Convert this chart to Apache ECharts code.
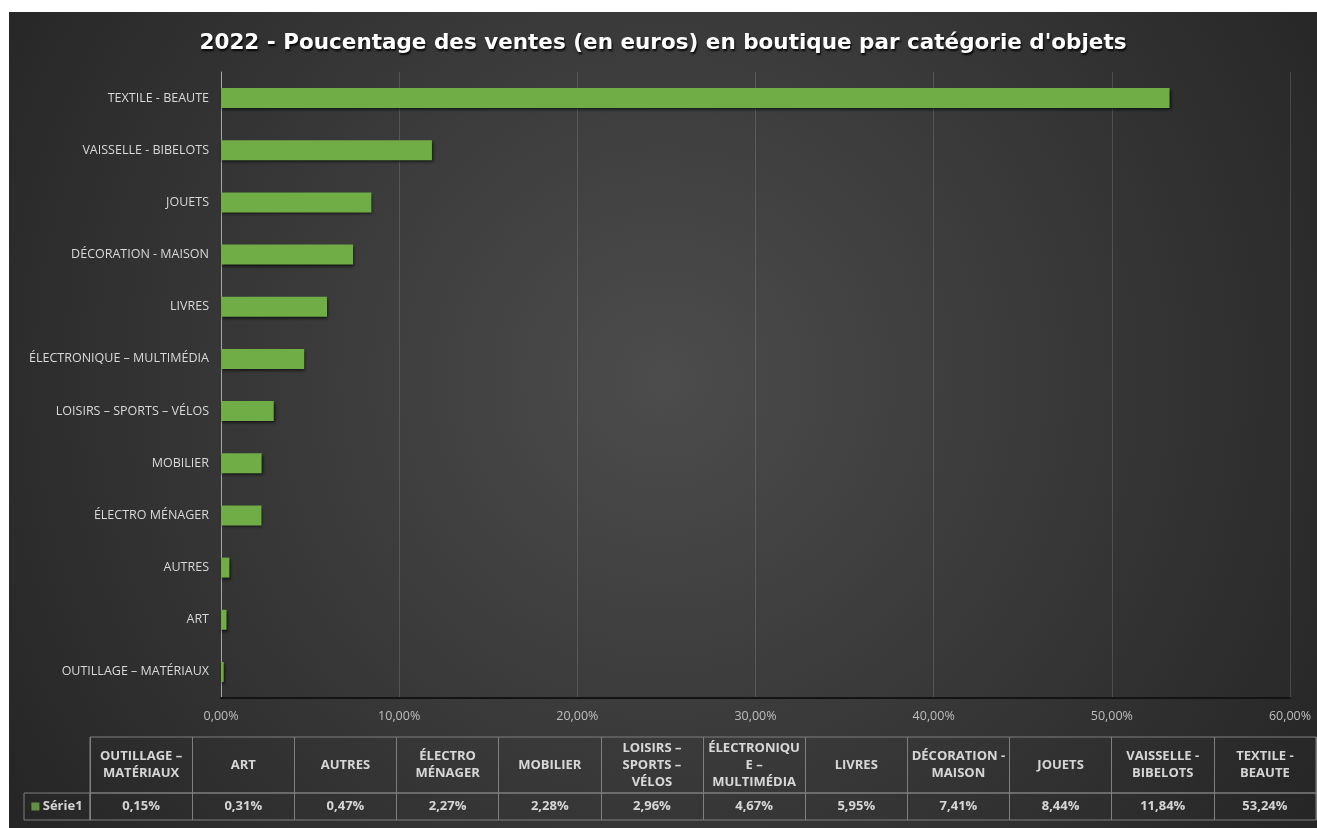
<!DOCTYPE html>
<html lang="fr">
<head>
<meta charset="UTF-8">
<title>2022 - Ventes en boutique</title>
<style>
    * { margin: 0; padding: 0; }
    body { background: #fff; width: 1317px; height: 828px; overflow: hidden; }
    #chart { position: absolute; left: 9px; top: 12px; width: 1308px; height: 816px; }
</style>
<script src="https://cdn.jsdelivr.net/npm/echarts@6/dist/echarts.min.js"></script>
</head>
<body>
<div id="chart"></div>
<script>
    // ordre du bas vers le haut (= ordre du tableau de gauche a droite)
    var categories = [
        'OUTILLAGE – MATÉRIAUX', 'ART', 'AUTRES', 'ÉLECTRO MÉNAGER', 'MOBILIER',
        'LOISIRS – SPORTS – VÉLOS', 'ÉLECTRONIQUE – MULTIMÉDIA', 'LIVRES',
        'DÉCORATION - MAISON', 'JOUETS', 'VAISSELLE - BIBELOTS', 'TEXTILE - BEAUTE'
    ];
    var tableHeaders = [
        'OUTILLAGE –\nMATÉRIAUX', 'ART', 'AUTRES', 'ÉLECTRO\nMÉNAGER', 'MOBILIER',
        'LOISIRS –\nSPORTS –\nVÉLOS', 'ÉLECTRONIQU\nE –\nMULTIMÉDIA', 'LIVRES',
        'DÉCORATION -\nMAISON', 'JOUETS', 'VAISSELLE -\nBIBELOTS', 'TEXTILE -\nBEAUTE'
    ];
    var values = [0.15, 0.31, 0.47, 2.27, 2.28, 2.96, 4.67, 5.95, 7.41, 8.44, 11.84, 53.24];
    var seriesName = 'Série1';
    var xMin = 0, xMax = 60, xStep = 10;

    var font = 'Open Sans';
    var borderCol = '#7f7f7f';

    function pct(v) {
        return v.toFixed(2).replace('.', ',') + '%';
    }

    var cellAxis = function (idx) {
        return {
            gridIndex: idx,
            type: 'category',
            data: categories,
            axisLine: { show: false },
            axisTick: { show: false },
            axisLabel: { show: false },
            splitLine: { show: true, interval: 0, lineStyle: { color: borderCol, width: 1 } }
        };
    };

    var option = {
        animation: false,
        backgroundColor: new echarts.graphic.RadialGradient(0.5, 0.45, 0.95, [
            { offset: 0, color: '#4c4c4c' },
            { offset: 1, color: '#262626' }
        ]),
        title: {
            text: "2022 - Poucentage des ventes (en euros) en boutique par catégorie d'objets",
            left: 'center',
            top: 15,
            textStyle: {
                color: '#fff',
                fontFamily: 'DejaVu Sans',
                fontSize: 21.5,
                fontWeight: 'bold',
                textShadowColor: 'rgba(0,0,0,0.9)',
                textShadowBlur: 2,
                textShadowOffsetX: 1,
                textShadowOffsetY: 2
            }
        },
        grid: [
            { left: 212, top: 60, width: 1069, height: 626 },
            { left: 81, right: 1, top: 725, height: 56, show: true, borderColor: borderCol, borderWidth: 1 },
            { left: 81, right: 1, top: 781, height: 27, show: true, borderColor: borderCol, borderWidth: 1 },
            { left: 15, top: 781, width: 66, height: 27, show: true, borderColor: borderCol, borderWidth: 1 }
        ],
        xAxis: [
            {
                gridIndex: 0,
                type: 'value',
                min: xMin,
                max: xMax,
                interval: xStep,
                axisLine: { show: true, lineStyle: { color: '#141414', width: 2 } },
                axisTick: { show: false },
                splitLine: { lineStyle: { color: 'rgba(255,255,255,0.14)' } },
                axisLabel: { color: '#bfbfbf', fontSize: 12.5, fontFamily: font, margin: 12, formatter: pct }
            },
            cellAxis(1),
            cellAxis(2),
            { gridIndex: 3, type: 'value', min: -1, max: 1, show: false }
        ],
        yAxis: [
            {
                gridIndex: 0,
                type: 'category',
                data: categories,
                axisLine: { show: true, lineStyle: { color: '#a6a6a6' } },
                axisTick: { show: false },
                axisLabel: { color: '#d9d9d9', fontSize: 12.5, fontFamily: font, margin: 12 }
            },
            { gridIndex: 1, type: 'category', data: ['h'], show: false },
            { gridIndex: 2, type: 'category', data: ['v'], show: false },
            { gridIndex: 3, type: 'category', data: ['s'], show: false }
        ],
        series: [
            {
                name: seriesName,
                type: 'bar',
                data: values,
                barWidth: 20,
                itemStyle: {
                    color: '#70ad47',
                    shadowColor: 'rgba(0,0,0,0.7)',
                    shadowBlur: 3,
                    shadowOffsetX: 1,
                    shadowOffsetY: 2
                }
            },
            {
                type: 'scatter',
                xAxisIndex: 1,
                yAxisIndex: 1,
                silent: true,
                symbolSize: 1,
                itemStyle: { color: 'transparent' },
                data: categories.map(function (c, i) { return [i, 0]; }),
                label: {
                    show: true,
                    position: 'inside',
                    color: '#fff',
                    fontFamily: font,
                    fontWeight: 'bold',
                    fontSize: 13,
                    lineHeight: 17,
                    align: 'center',
                    formatter: function (p) { return tableHeaders[p.dataIndex]; }
                }
            },
            {
                type: 'scatter',
                xAxisIndex: 2,
                yAxisIndex: 2,
                silent: true,
                symbolSize: 1,
                itemStyle: { color: 'transparent' },
                data: values.map(function (v, i) { return [i, 0, v]; }),
                label: {
                    show: true,
                    position: 'inside',
                    color: '#fff',
                    fontFamily: font,
                    fontWeight: 'bold',
                    fontSize: 13,
                    formatter: function (p) { return pct(values[p.dataIndex]); }
                }
            },
            {
                type: 'scatter',
                xAxisIndex: 3,
                yAxisIndex: 3,
                silent: true,
                symbolSize: 1,
                itemStyle: { color: 'transparent' },
                data: [[0, 0]],
                label: {
                    show: true,
                    position: 'inside',
                    color: '#fff',
                    fontFamily: font,
                    fontWeight: 'bold',
                    fontSize: 13,
                    formatter: '{sq|} ' + seriesName,
                    rich: {
                        sq: { backgroundColor: '#70ad47', width: 8, height: 8 }
                    }
                }
            }
        ]
    };

    var myChart = echarts.init(document.getElementById('chart'));
    myChart.setOption(option);
</script>
</body>
</html>
